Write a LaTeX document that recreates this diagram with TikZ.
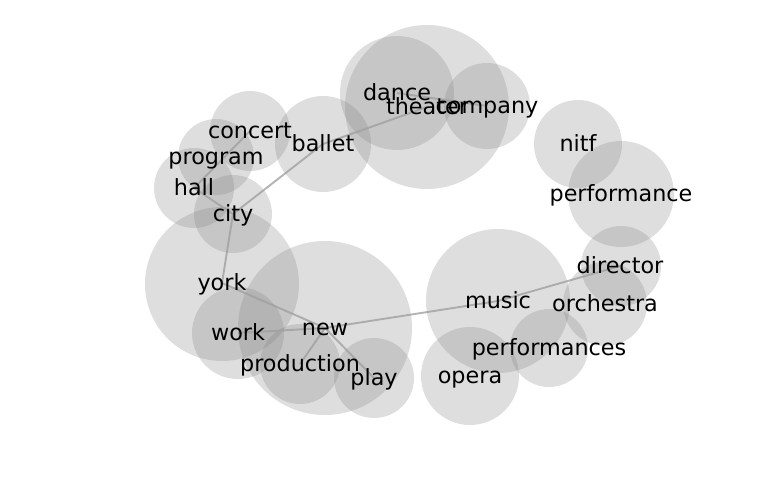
\documentclass[tikz,border=0pt]{standalone}
\usepackage{fontspec}
\setmainfont{DejaVu Sans}
\pgfdeclarelayer{background}
\pgfsetlayers{background,main}
\tikzset{
  word/.style={inner sep=0pt, text height=0.76em, text depth=0.24em, yshift=-4.5pt, font=\fontsize{22.3}{26}\selectfont},
  bub/.style={fill=gray, fill opacity=0.26},
  link/.style={draw={rgb,255:red,160;green,160;blue,160}, opacity=0.8, line width=1.9pt}
}
\begin{document}
\begin{tikzpicture}[x=1pt,y=-1pt]
\useasboundingbox (0,0) rectangle (768,500);
\node[word] (dance) at (397,93) {dance};
\node[word] (theater) at (427,107) {theater};
\node[word] (company) at (487,106) {company};
\node[word] (concert) at (250,131) {concert};
\node[word] (program) at (216,157) {program};
\node[word] (hall) at (194,188) {hall};
\node[word] (city) at (233,214) {city};
\node[word] (ballet) at (323,144) {ballet};
\node[word] (nitf) at (578,144) {nitf};
\node[word] (performance) at (621,194) {performance};
\node[word] (director) at (620,266) {director};
\node[word] (orchestra) at (605,304) {orchestra};
\node[word] (music) at (498,301) {music};
\node[word] (performances) at (549,348) {performances};
\node[word] (opera) at (470,376) {opera};
\node[word] (york) at (222,283) {york};
\node[word] (new) at (325,328) {new};
\node[word] (work) at (238,333) {work};
\node[word] (production) at (300,364) {production};
\node[word] (play) at (374,378) {play};
\begin{pgfonlayer}{background}
\fill[bub] (397,93) circle[radius=57pt];
\fill[bub] (427,107) circle[radius=82pt];
\fill[bub] (487,106) circle[radius=43pt];
\fill[bub] (323,144) circle[radius=48pt];
\fill[bub] (250,131) circle[radius=40pt];
\fill[bub] (216,157) circle[radius=38pt];
\fill[bub] (194,188) circle[radius=40pt];
\fill[bub] (233,214) circle[radius=39pt];
\fill[bub] (222,284) circle[radius=77pt];
\fill[bub] (238,333) circle[radius=46pt];
\fill[bub] (325,328) circle[radius=87pt];
\fill[bub] (300,364) circle[radius=40pt];
\fill[bub] (374,378) circle[radius=40pt];
\fill[bub] (498,301) circle[radius=72pt];
\fill[bub] (470,376) circle[radius=49pt];
\fill[bub] (549,348) circle[radius=39pt];
\fill[bub] (605,304) circle[radius=42pt];
\fill[bub] (621,266) circle[radius=40pt];
\fill[bub] (621,194) circle[radius=53pt];
\fill[bub] (578,144) circle[radius=44pt];
\draw[link] ([yshift=4.5pt]dance.center) -- ([yshift=4.5pt]company.center);
\draw[link] ([yshift=4.5pt]ballet.center) -- ([yshift=4.5pt]theater.center);
\draw[link] ([yshift=4.5pt]city.center) -- ([yshift=4.5pt]ballet.center);
\draw[link] ([yshift=4.5pt]concert.center) -- ([yshift=4.5pt]hall.center);
\draw[link] ([yshift=4.5pt]hall.center) -- ([yshift=4.5pt]city.center);
\draw[link] ([yshift=4.5pt]city.center) -- ([yshift=4.5pt]york.center);
\draw[link] ([yshift=4.5pt]york.center) -- ([yshift=4.5pt]new.center);
\draw[link] ([yshift=4.5pt]new.center) -- ([yshift=4.5pt]work.center);
\draw[link] ([yshift=4.5pt]new.center) -- ([yshift=4.5pt]production.center);
\draw[link] ([yshift=4.5pt]new.center) -- ([yshift=4.5pt]play.center);
\draw[link] ([yshift=4.5pt]new.center) -- ([yshift=4.5pt]music.center);
\draw[link] ([yshift=4.5pt]music.center) -- ([yshift=4.5pt]director.center);
\end{pgfonlayer}
\end{tikzpicture}
\end{document}
